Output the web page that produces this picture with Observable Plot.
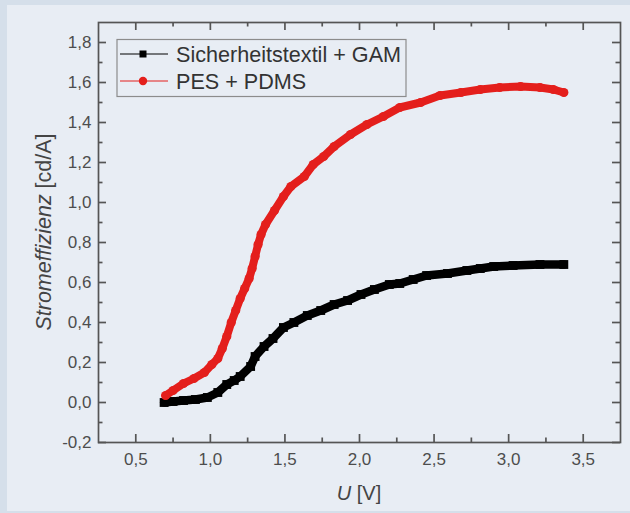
<!DOCTYPE html>
<html>
<head>
<meta charset="utf-8">
<script src="https://cdn.jsdelivr.net/npm/d3@7"></script>
<script src="https://cdn.jsdelivr.net/npm/@observablehq/plot@0.6"></script>
<style>
  html, body { margin: 0; padding: 0; background: #d5dfea; width: 630px; height: 513px; overflow: hidden; }
  #panel { position: absolute; left: 7px; top: 5px; width: 623px; height: 506px; background: #e8edf4; }
  #chart { position: absolute; left: 0; top: 0; }
  svg { background: transparent !important; }
</style>
</head>
<body>
<div id="panel"></div>
<div id="chart"></div>
<script>
// ---- data ----
const seriesNames = ["Sicherheitstextil + GAM", "PES + PDMS"];

const gamX = [0.69, 0.75, 0.82, 0.90, 0.98, 1.05, 1.11, 1.16, 1.20, 1.27, 1.30, 1.36, 1.42, 1.49, 1.56, 1.65, 1.74, 1.83, 1.92, 2.01, 2.10, 2.20, 2.27, 2.36, 2.45, 2.59, 2.72, 2.81, 2.90, 3.03, 3.21, 3.37];
const gamY = [0.00, 0.005, 0.01, 0.015, 0.025, 0.05, 0.09, 0.11, 0.13, 0.18, 0.23, 0.28, 0.32, 0.375, 0.40, 0.435, 0.46, 0.49, 0.51, 0.54, 0.565, 0.59, 0.595, 0.615, 0.635, 0.645, 0.66, 0.67, 0.68, 0.685, 0.69, 0.69];

const pdmsX = [0.70, 0.75, 0.82, 0.89, 0.96, 1.01, 1.05, 1.08, 1.11, 1.14, 1.17, 1.20, 1.23, 1.26, 1.28, 1.30, 1.32, 1.34, 1.37, 1.43, 1.49, 1.54, 1.63, 1.69, 1.76, 1.83, 1.94, 2.05, 2.16, 2.27, 2.41, 2.54, 2.68, 2.81, 2.94, 3.08, 3.21, 3.30, 3.37];
const pdmsY = [0.035, 0.06, 0.095, 0.12, 0.15, 0.19, 0.22, 0.27, 0.33, 0.40, 0.46, 0.52, 0.57, 0.62, 0.67, 0.73, 0.79, 0.84, 0.89, 0.96, 1.03, 1.08, 1.13, 1.19, 1.23, 1.28, 1.34, 1.39, 1.43, 1.475, 1.50, 1.535, 1.55, 1.565, 1.575, 1.58, 1.575, 1.565, 1.55];

const xMajor = [0.5, 1.0, 1.5, 2.0, 2.5, 3.0, 3.5];
const xMinor = [0.75, 1.25, 1.75, 2.25, 2.75, 3.25];
const yMajor = [-0.2, 0.0, 0.2, 0.4, 0.6, 0.8, 1.0, 1.2, 1.4, 1.6, 1.8];
const yMinor = [-0.1, 0.1, 0.3, 0.5, 0.7, 0.9, 1.1, 1.3, 1.5, 1.7];

const xTitleItalic = "U", xTitleRest = " [V]";
const yTitleItalic = "Stromeffizienz", yTitleRest = " [cd/A]";

// ---- build tables ----
const gam = gamX.map((x, i) => ({x, y: gamY[i]}));
const pdms = pdmsX.map((x, i) => ({x, y: pdmsY[i]}));

const W = 630, H = 513, mL = 98, mR = 10, mT = 22, mB = 71;
const pw = W - mL - mR, ph = H - mT - mB;
const fmt = d => d.toFixed(1).replace(".", ",").replace("−", "-");
const axisColor = "#555";
const black = "#000000", red = "#e41f1c";
const tk = {stroke: axisColor, strokeWidth: 1.7};

const plot = Plot.plot({
  width: W, height: H,
  marginLeft: mL, marginRight: mR, marginTop: mT, marginBottom: mB,
  x: {domain: [0.25, 3.75]},
  y: {domain: [-0.2, 1.9]},
  style: {fontFamily: "'Liberation Sans', Arial, sans-serif", fontSize: "17px", color: "#4d4d4d", background: "transparent"},
  marks: [
    Plot.axisX(xMajor, {tickSize: 0, tickPadding: 10, tickFormat: fmt, label: null, fontSize: 17}),
    Plot.axisY(yMajor, {tickSize: 0, tickPadding: 7, tickFormat: fmt, label: null, fontSize: 17}),
    // inward ticks on all sides
    Plot.ruleX(xMajor, {x: d => d, insetTop: ph - 8, ...tk}),
    Plot.ruleX(xMajor, {x: d => d, insetBottom: ph - 8, ...tk}),
    Plot.ruleX(xMinor, {x: d => d, insetTop: ph - 4.5, ...tk}),
    Plot.ruleX(xMinor, {x: d => d, insetBottom: ph - 4.5, ...tk}),
    Plot.ruleY(yMajor, {y: d => d, insetRight: pw - 8, ...tk}),
    Plot.ruleY(yMajor, {y: d => d, insetLeft: pw - 8, ...tk}),
    Plot.ruleY(yMinor, {y: d => d, insetRight: pw - 4.5, ...tk}),
    Plot.ruleY(yMinor, {y: d => d, insetLeft: pw - 4.5, ...tk}),
    Plot.frame({stroke: axisColor, strokeWidth: 1.7}),
    // series
    Plot.line(gam, {x: "x", y: "y", stroke: black, strokeWidth: 8.5}),
    Plot.dot(gam, {x: "x", y: "y", symbol: "square", r: 5, fill: black, stroke: "none"}),
    Plot.line(pdms, {x: "x", y: "y", stroke: red, strokeWidth: 8}),
    Plot.dot(pdms, {x: "x", y: "y", symbol: "circle", r: 4.6, fill: red, stroke: "none"})
  ]
});
document.getElementById("chart").appendChild(plot);

// ---- titles and legend (layout only) ----
const svg = d3.select(plot);
const font = "'Liberation Sans', Arial, sans-serif";

const xt = svg.append("text")
  .attr("x", mL + pw / 2).attr("y", 500)
  .attr("text-anchor", "middle").attr("font-family", font).attr("font-size", 20).attr("fill", "#444");
xt.append("tspan").attr("font-style", "italic").text(xTitleItalic);
xt.append("tspan").text(xTitleRest);

const yt = svg.append("text")
  .attr("transform", `translate(51,${mT + ph / 2}) rotate(-90)`)
  .attr("text-anchor", "middle").attr("font-family", font).attr("font-size", 21.5).attr("fill", "#444");
yt.append("tspan").attr("font-style", "italic").text(yTitleItalic);
yt.append("tspan").text(yTitleRest);

const lg = svg.append("g");
lg.append("rect").attr("x", 117).attr("y", 39.5).attr("width", 289).attr("height", 57)
  .attr("fill", "none").attr("stroke", "#8c8c8c").attr("stroke-width", 1.2);
const rows = [
  {name: seriesNames[0], color: black, sym: "square", y: 54},
  {name: seriesNames[1], color: red, sym: "circle", y: 81}
];
rows.forEach(r => {
  lg.append("line").attr("x1", 120).attr("x2", 168).attr("y1", r.y).attr("y2", r.y)
    .attr("stroke", r.color).attr("stroke-width", 1);
  if (r.sym === "square") {
    lg.append("rect").attr("x", 139.5).attr("y", r.y - 3.5).attr("width", 7).attr("height", 7).attr("fill", r.color);
  } else {
    lg.append("circle").attr("cx", 143).attr("cy", r.y).attr("r", 4.2).attr("fill", r.color);
  }
  lg.append("text").attr("x", 176).attr("y", r.y).attr("dy", "0.36em")
    .attr("text-anchor", "start")
    .attr("font-family", font).attr("font-size", 21.6).attr("fill", "#333").text(r.name);
});
</script>
</body>
</html>
